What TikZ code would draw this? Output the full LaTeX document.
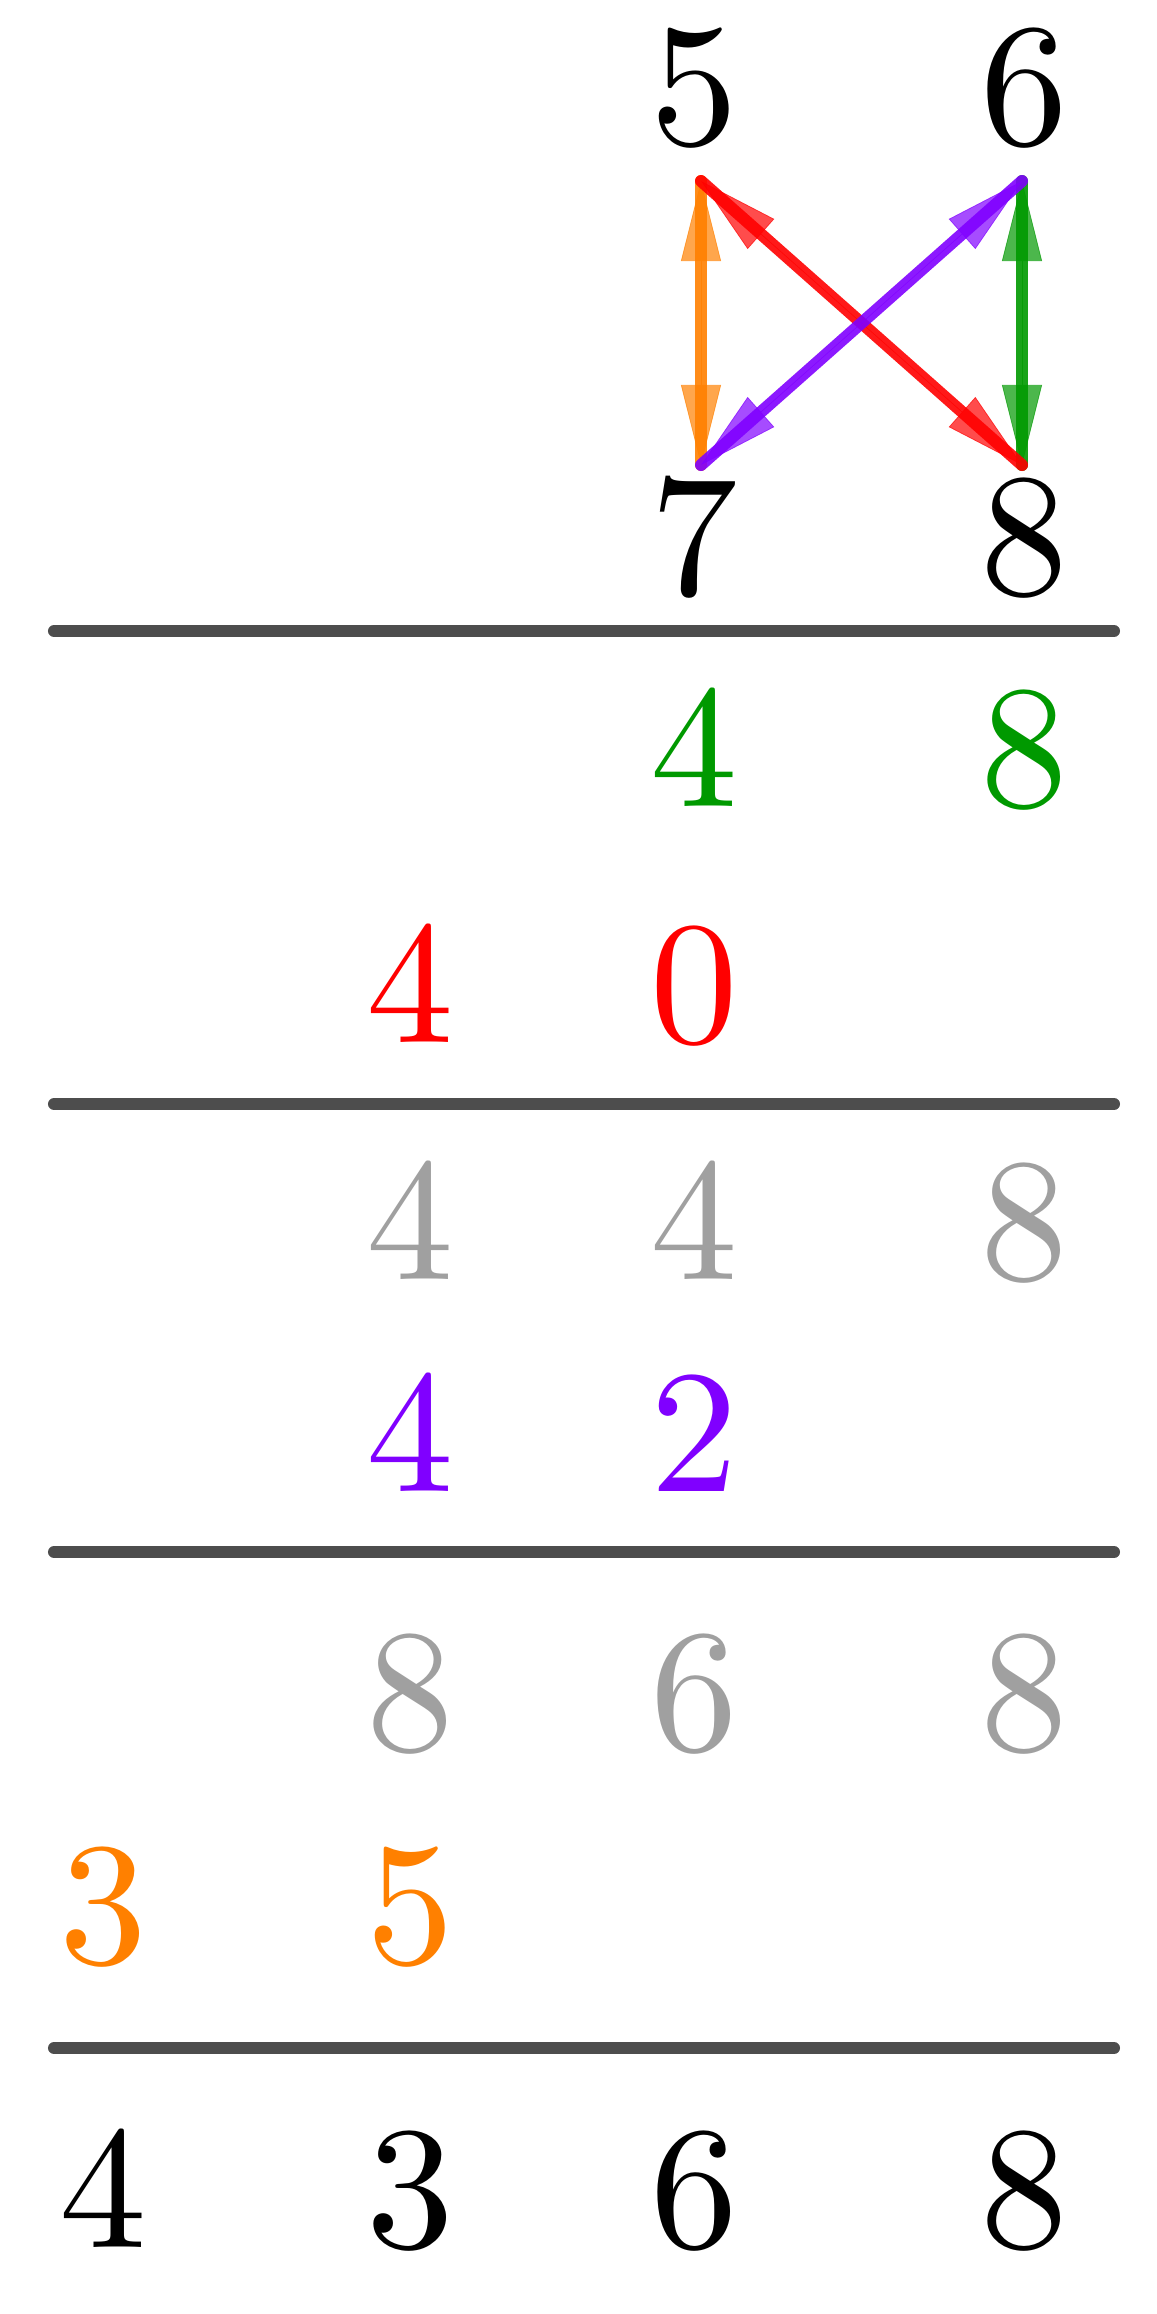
\documentclass[tikz,border=0pt]{standalone}
\usepackage{fontspec}
\setmainfont{lmroman10-regular.otf}
\usetikzlibrary{arrows.meta}
\definecolor{cor}{RGB}{255,128,0}
\definecolor{cgr}{RGB}{0,153,0}
\definecolor{cre}{RGB}{255,0,0}
\definecolor{cpu}{RGB}{128,0,255}
\definecolor{cgy}{RGB}{160,160,160}
\definecolor{cln}{RGB}{77,77,77}
\begin{document}
\begin{tikzpicture}[x=0.01cm,y=-0.01cm,
  dig/.style={anchor=base,inner sep=0pt,font=\fontsize{49.8}{60}\selectfont},
  rulel/.style={line width=0.12cm,cln,line cap=round},
  edgel/.style={line width=0.12cm,line cap=round,opacity=0.9},
  headsl/.style={line width=0.2pt,opacity=0.7,{Triangle[length=0.8cm,width=0.4cm]}-{Triangle[length=0.8cm,width=0.4cm]}}]
\useasboundingbox (0,0) rectangle (1157,2314);
% columns: 103, 410, 694, 1024
% top square
\node[dig] (n5) at (694,144) {5};
\node[dig] (n6) at (1024,144) {6};
\node[dig] (n7) at (694,594) {7};
\node[dig] (n8) at (1024,594) {8};
\coordinate (p5) at (701,181);
\coordinate (p6) at (1022,181);
\coordinate (p7) at (701,465);
\coordinate (p8) at (1022,465);
% arrows
\draw[headsl,cor] (p5) -- (p7);
\draw[edgel,cor] (p5) -- (p7);
\draw[headsl,cgr] (p6) -- (p8);
\draw[edgel,cgr] (p6) -- (p8);
\draw[headsl,cre] (p5) -- (p8);
\draw[edgel,cre] (p5) -- (p8);
\draw[headsl,cpu] (p6) -- (p7);
\draw[edgel,cpu] (p6) -- (p7);
% rules
\coordinate (r1a) at (54,631);  \coordinate (r1b) at (1114,631);
\coordinate (r2a) at (54,1104); \coordinate (r2b) at (1114,1104);
\coordinate (r3a) at (54,1552); \coordinate (r3b) at (1114,1552);
\coordinate (r4a) at (54,2048); \coordinate (r4b) at (1114,2048);
\draw[rulel] (r1a) -- (r1b);
\draw[rulel] (r2a) -- (r2b);
\draw[rulel] (r3a) -- (r3b);
\draw[rulel] (r4a) -- (r4b);
% block 1
\node[dig,cgr] (g4) at (694,806) {4};
\node[dig,cgr] (g8) at (1024,806) {8};
\node[dig,cre] (r4) at (410,1042) {4};
\node[dig,cre] (r0) at (694,1042) {0};
% block 2
\node[dig,cgy] (a4) at (410,1279) {4};
\node[dig,cgy] (b4) at (694,1279) {4};
\node[dig,cgy] (c8) at (1024,1279) {8};
\node[dig,cpu] (u4) at (410,1491) {4};
\node[dig,cpu] (u2) at (694,1491) {2};
% block 3
\node[dig,cgy] (d8) at (410,1750) {8};
\node[dig,cgy] (e6) at (694,1750) {6};
\node[dig,cgy] (f8) at (1024,1750) {8};
\node[dig,cor] (o3) at (103,1963) {3};
\node[dig,cor] (o5) at (410,1963) {5};
% result
\node[dig] (z4) at (103,2247) {4};
\node[dig] (z3) at (410,2247) {3};
\node[dig] (z6) at (694,2247) {6};
\node[dig] (z8) at (1024,2247) {8};
\end{tikzpicture}
\end{document}
